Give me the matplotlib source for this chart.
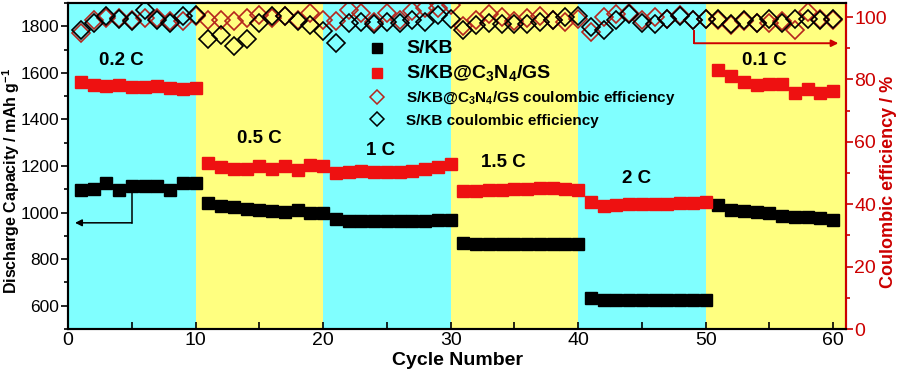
import numpy as np
import matplotlib
matplotlib.use('Agg')
import matplotlib.pyplot as plt
from matplotlib.lines import Line2D

plt.rcParams['font.family'] = ['Liberation Sans', 'DejaVu Sans']
plt.rcParams['mathtext.fontset'] = 'custom'
plt.rcParams['mathtext.rm'] = 'Liberation Sans'
plt.rcParams['mathtext.bf'] = 'Liberation Sans:bold'
plt.rcParams['mathtext.default'] = 'bf'

# data
cycles = np.arange(1, 61)

cap_kb = [1099, 1103, 1129, 1099, 1112, 1116, 1116, 1095, 1125, 1129,
          1042, 1028, 1024, 1017, 1011, 1006, 1004, 1009, 1000, 1000,
          971, 964, 964, 964, 964, 962, 964, 964, 967, 968,
          871, 867, 867, 867, 867, 867, 867, 864, 864, 864,
          632, 623, 623, 623, 623, 623, 623, 623, 623, 623,
          1031, 1011, 1006, 1002, 1000, 985, 983, 983, 975, 967]

cap_gs = [1559, 1548, 1545, 1548, 1541, 1538, 1544, 1536, 1529, 1536,
          1213, 1196, 1188, 1188, 1202, 1188, 1202, 1182, 1206, 1199,
          1171, 1176, 1177, 1173, 1175, 1175, 1177, 1188, 1196, 1209,
          1092, 1092, 1099, 1099, 1102, 1102, 1105, 1105, 1102, 1099,
          1045, 1028, 1034, 1035, 1035, 1036, 1038, 1039, 1042, 1045,
          1612, 1586, 1562, 1548, 1552, 1552, 1512, 1529, 1515, 1524]

ce_kb = [95.8, 98.1, 100.3, 99.4, 98.8, 102.3, 99.0, 98.1, 100.3, 100.6,
         93.1, 94.4, 90.6, 93.1, 98.1, 100.3, 100.3, 98.8, 97.4, 95.6,
         91.7, 98.0, 98.5, 97.7, 98.5, 98.0, 99.0, 98.5, 100.6, 99.5,
         95.8, 97.4, 98.0, 97.7, 97.7, 97.7, 98.5, 99.0, 100.1, 100.3,
         96.9, 96.0, 99.2, 100.9, 98.0, 97.7, 99.5, 100.3, 99.0, 99.5,
         99.5, 97.7, 99.2, 98.0, 99.5, 98.0, 99.5, 99.5, 99.0, 99.5]

ce_gs = [95.0, 99.0, 99.6, 99.6, 99.0, 99.6, 99.6, 98.8, 98.8, 100.3,
         99.0, 99.0, 98.8, 99.6, 100.6, 99.6, 100.3, 99.2, 101.2, 99.2,
         98.8, 102.3, 101.4, 98.5, 101.2, 99.0, 101.8, 102.8, 102.8, 103.9,
         97.0, 99.0, 101.0, 100.0, 98.8, 99.6, 100.3, 99.0, 98.5, 99.5,
         95.2, 100.0, 101.0, 101.2, 99.0, 100.0, 99.5, 100.6, 99.0, 99.5,
         99.0, 97.4, 98.8, 98.0, 98.1, 98.8, 96.0, 101.5, 99.5, 99.2]

rate_labels = ['0.2 C', '0.5 C', '1 C', '1.5 C', '2 C', '0.1 C']
rate_edges = [0, 10, 20, 30, 40, 50, 61]

cyan = '#80ffff'
yellow = '#ffff80'
red = '#ee1111'
dark_red = '#b5261e'
axis_red = '#cc0000'

fig = plt.figure(figsize=(8.98, 3.76), dpi=100)
ax = fig.add_axes([68/898, 1-329/376, (846-68)/898, (329-3)/376])
ax2 = ax.twinx()

for i in range(len(rate_labels)):
    ax.axvspan(rate_edges[i], rate_edges[i+1], color=cyan if i % 2 == 0 else yellow,
               lw=0, zorder=0)

ax.plot(cycles, cap_kb, 's', color='black', ms=8.8, zorder=3)
ax.plot(cycles, cap_gs, 's', color=red, ms=8.8, zorder=3)

ax2.plot(cycles, ce_gs, 'D', mfc='none', mec=dark_red, mew=1.2, ms=9.5)
ax2.plot(cycles, ce_kb, 'D', mfc='none', mec='black', mew=1.2, ms=9.5)

# rate labels
label_pos = [(4.2, 1655), (15.0, 1317), (24.5, 1266), (34.1, 1215), (44.6, 1146), (54.6, 1655)]
for t, (x, y) in zip(rate_labels, label_pos):
    ax.text(x, y, t, fontsize=13.5, fontweight='bold', ha='center', va='center', zorder=4)

# axis pointer arrows
ax.plot([5, 5], [1084, 956], color='black', lw=1.1, zorder=4)
ax.annotate('', xy=(0.55, 956), xytext=(5, 956),
            arrowprops=dict(arrowstyle='-|>', color='black', lw=1.1, mutation_scale=10,
                            shrinkA=0, shrinkB=0), zorder=4)
ax2.plot([49.1, 49.1], [95.4, 91.6], color=axis_red, lw=1.4)
ax2.annotate('', xy=(60.4, 91.6), xytext=(49.1, 91.6),
             arrowprops=dict(arrowstyle='-|>', color=axis_red, lw=1.4, mutation_scale=10,
                             shrinkA=0, shrinkB=0))

ax.set_xlim(0, 61)
ax.set_ylim(500, 1900)
ax2.set_ylim(0, 104.5)

ax.set_xticks(np.arange(0, 61, 10))
ax.set_xticks(np.arange(5, 61, 10), minor=True)
ax.set_yticks(np.arange(600, 1801, 200))
ax.set_yticks(np.arange(500, 1901, 100), minor=True)
ax2.set_yticks(np.arange(0, 101, 20))
ax2.set_yticks(np.arange(10, 101, 20), minor=True)

ax.tick_params(axis='x', which='both', direction='in', length=5, width=1.2, labelsize=14, pad=2)
ax.tick_params(axis='y', which='major', direction='out', length=5, width=1.2, labelsize=12.5, pad=1.5)
ax.tick_params(axis='y', which='minor', direction='out', length=3, width=1.2)
ax2.tick_params(axis='y', which='major', direction='out', length=5, width=1.2, labelsize=14,
                colors=axis_red, pad=1)
ax2.tick_params(axis='y', which='minor', direction='out', length=3, width=1.2, colors=axis_red)

for s in ax.spines.values():
    s.set_linewidth(1.5)
for s in ax2.spines.values():
    s.set_linewidth(1.5)
ax2.spines['right'].set_color(axis_red)

ax.set_xlabel('Cycle Number', fontsize=14, fontweight='bold')
ax.xaxis.set_label_coords(0.5, -0.07, transform=ax.transAxes)
ax.set_ylabel('Discharge Capacity / mAh g$^{-1}$', fontsize=11.5, fontweight='bold')
ax.yaxis.set_label_coords(-0.059, 0.454)
ax2.set_ylabel('Coulombic efficiency / %', fontsize=13, fontweight='bold', color=axis_red)
ax2.yaxis.set_label_coords(1.044, 0.451)

handles = [
    Line2D([], [], ls='none', marker='s', color='black', ms=7),
    Line2D([], [], ls='none', marker='s', color=red, ms=7),
    Line2D([], [], ls='none', marker='D', mfc='none', mec=dark_red, mew=1.1, ms=7),
    Line2D([], [], ls='none', marker='D', mfc='none', mec='black', mew=1.1, ms=7),
]
names = ['S/KB', 'S/KB@C$_3$N$_4$/GS', 'S/KB@C$_3$N$_4$/GS coulombic efficiency',
         'S/KB coulombic efficiency']
leg = ax2.legend(handles, names, loc='upper left', bbox_to_anchor=(0.37, 0.928),
                 frameon=False, handlelength=1.0, handletextpad=1.4, labelspacing=0.4,
                 prop={'weight': 'bold', 'size': 11})
for i, t in enumerate(leg.get_texts()):
    t.set_fontsize(14 if i < 2 else 11)

fig.savefig('out.png', dpi=100)
